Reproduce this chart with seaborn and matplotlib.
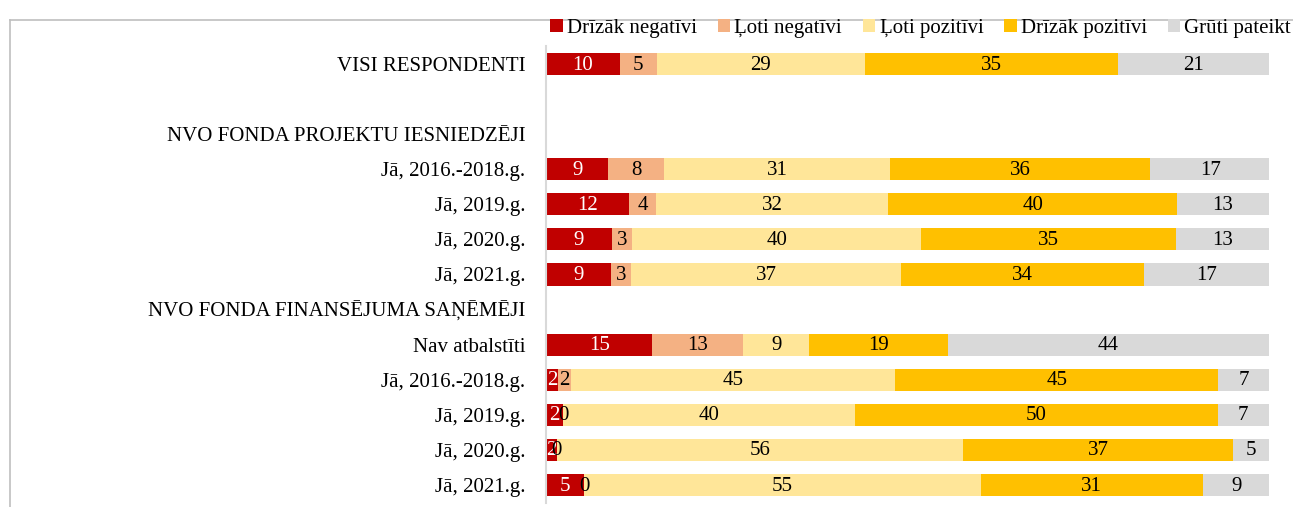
import numpy as np
import pandas as pd
import matplotlib
matplotlib.use("Agg")
import matplotlib.pyplot as plt
from matplotlib.patches import Patch
from matplotlib.lines import Line2D
import seaborn as sns

# rows of the chart, top to bottom ('' = empty row, headers have no bar)
row_labels = [
    "VISI RESPONDENTI", "", "NVO FONDA PROJEKTU IESNIEDZĒJI",
    "Jā, 2016.-2018.g.", "Jā, 2019.g.", "Jā, 2020.g.", "Jā, 2021.g.",
    "NVO FONDA FINANSĒJUMA SAŅĒMĒJI", "Nav atbalstīti",
    "Jā, 2016.-2018.g.", "Jā, 2019.g.", "Jā, 2020.g.", "Jā, 2021.g.",
]

series = ["Drīzāk negatīvi", "Ļoti negatīvi", "Ļoti pozitīvi", "Drīzāk pozitīvi", "Grūti pateikt"]
colors = ["#C00000", "#F4B183", "#FFE699", "#FFC000", "#D9D9D9"]

# percentages per row (NaN = no bar)
nan = np.nan
drizak_neg = [10.2, nan, nan, 8.6, 11.5, 9.1, 9.0, nan, 14.7, 1.7, 2.4, 1.5, 5.3]
loti_neg   = [5.1,  nan, nan, 7.7, 3.7,  2.8, 2.8, nan, 12.6, 1.8, 0.0, 0.0, 0.0]
loti_poz   = [28.8, nan, nan, 31.3, 32.1, 40.0, 37.3, nan, 9.1, 44.8, 40.4, 56.2, 54.8]
drizak_poz = [35.0, nan, nan, 36.0, 40.0, 35.3, 33.6, nan, 19.2, 44.7, 50.1, 37.3, 30.8]
gruti      = [20.9, nan, nan, 16.6, 12.7, 12.8, 17.3, nan, 44.4, 7.0, 7.1, 5.0, 9.1]

keys = [f"r{i}" for i in range(len(row_labels))]
df = pd.DataFrame({"row": keys, series[0]: drizak_neg, series[1]: loti_neg,
                   series[2]: loti_poz, series[3]: drizak_poz, series[4]: gruti})
cum = df[series].cumsum(axis=1)

plt.rcParams["font.family"] = ["Liberation Serif", "DejaVu Serif"]
fs = 15
fig = plt.figure(figsize=(12.93, 5.07), dpi=100)
W, H = 1293, 507
ax = fig.add_axes([546 / W, 1 - 503 / H, (1269 - 546) / W, (503 - 46) / H])

# layered cumulative bars, widest first
for i in range(len(series) - 1, -1, -1):
    d = pd.DataFrame({"row": keys, "val": cum[series[i]]})
    sns.barplot(data=d.dropna(), x="val", y="row", order=keys, orient="h",
                color=colors[i], width=0.63, linewidth=0, saturation=1,
                ax=ax, errorbar=None)

# segment labels
for r in range(len(keys)):
    for i, s in enumerate(series):
        v = df.loc[r, s]
        if np.isnan(v):
            continue
        c = cum.loc[r, s] - v / 2
        ax.text(c, r + 0.03, f"{v:.0f}", ha="center", va="center", fontsize=fs,
                color="white" if i == 0 else "black")

ax.set_xlim(0, 100)
ax.set_ylim(12.513, -0.513)
ax.set_yticks(range(len(keys)))
ax.set_yticklabels(row_labels, fontsize=fs)
ax.tick_params(axis="y", length=0, pad=15)
ax.set_xticks([])
ax.set_xlabel("")
ax.set_ylabel("")
for sp in ["top", "right", "bottom"]:
    ax.spines[sp].set_visible(False)
ax.spines["left"].set_color("#D9D9D9")
ax.spines["left"].set_linewidth(1.5)

# legend
handles = [Patch(facecolor=c, edgecolor="none") for c in colors]
fig.legend(handles, series, loc="center right", bbox_to_anchor=(1291 / W, 1 - 28 / H),
           ncol=5, frameon=False, fontsize=fs, handlelength=0.6, handleheight=0.6,
           handletextpad=0.2, columnspacing=1.0, borderaxespad=0, borderpad=0)

# outer frame (partially visible)
fig.add_artist(Line2D([10 / W, 1], [1 - 20 / H, 1 - 20 / H], color="#BFBFBF", lw=1.2))
fig.add_artist(Line2D([10 / W, 10 / W], [0, 1 - 20 / H], color="#BFBFBF", lw=1.2))

fig.savefig("out.png", dpi=100)
